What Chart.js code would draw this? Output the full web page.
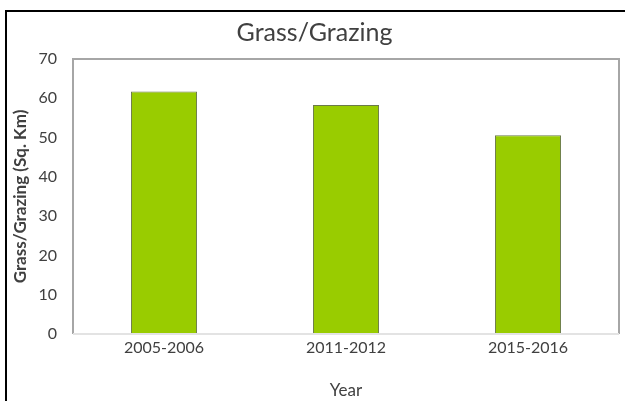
<!DOCTYPE html>
<html>
<head>
<meta charset="utf-8">
<script src="https://cdn.jsdelivr.net/npm/chart.js@4.4.1/dist/chart.umd.min.js"></script>
<style>
  html, body { margin: 0; padding: 0; background: #fff; }
  #wrap { position: relative; width: 625px; height: 401px; overflow: hidden; }
  #frame { position: absolute; left: 5px; top: 10px; width: 640px; height: 420px;
           border-left: 2px solid #000; border-top: 2px solid #000; }
  canvas { position: absolute; left: 0; top: 0; }
</style>
</head>
<body>
<div id="wrap">
  <div id="frame"></div>
  <canvas id="myChart" width="625" height="401"></canvas>
</div>
<script>
var years = ["2005-2006", "2011-2012", "2015-2016"];

var grazing = [61.7, 58.3, 50.6];

var yTicks = [0, 10, 20, 30, 40, 50, 60, 70];

// grey frame round the plot area, like the excel one
var plotFrame = {
  id: "plotFrame",
  afterDraw: function(chart) {
    var a = chart.chartArea;
    var c = chart.ctx;
    c.save();
    c.strokeStyle = "#a6a6a6";
    c.lineWidth = 2;
    c.beginPath();
    c.moveTo(a.left, a.bottom);
    c.lineTo(a.left, a.top);
    c.lineTo(a.right, a.top);
    c.lineTo(a.right, a.bottom);
    c.stroke();
    c.strokeStyle = "#e3e3e3";
    c.beginPath();
    c.moveTo(a.left, a.bottom);
    c.lineTo(a.right, a.bottom);
    c.stroke();
    c.restore();
  }
};

var data = {
  labels: years,
  datasets: [
    {
      label: "Grass/Grazing",
      backgroundColor: "#99cc00",
      borderColor: "#6b7a4a",
      borderWidth: 1,
      borderSkipped: "bottom",
      barPercentage: 0.363,
      categoryPercentage: 1.0,
      data: grazing
    }
  ]
};

var ctx = document.getElementById("myChart").getContext("2d");

var options = {
  responsive: false,
  animation: false,
  layout: {
    padding: { left: 10, right: 6, top: 0, bottom: 0 }
  },
  plugins: {
    legend: { display: false },
    tooltip: { enabled: false },
    title: {
      display: true,
      text: "Grass/Grazing",
      color: "#404040",
      font: { family: "Lato", size: 25, weight: "normal" },
      padding: { top: 18, bottom: 11 }
    }
  },
  scales: {
    x: {
      afterFit: function(axis) { axis.height = 67; },
      grid: { display: false, drawTicks: false, tickLength: 0 },
      border: { display: false },
      ticks: {
        color: "#404040",
        font: { family: "Lato", size: 16 },
        padding: 4
      },
      title: {
        display: true,
        text: "Year",
        color: "#404040",
        font: { family: "Lato", size: 17 },
        padding: { top: 10, bottom: 0 }
      }
    },
    y: {
      min: 0,
      max: 70,
      afterBuildTicks: function(axis) {
        axis.ticks = yTicks.map(function(v) { return { value: v }; });
      },
      afterFit: function(axis) { axis.width = 63; },
      grid: { display: false, drawTicks: false, tickLength: 0 },
      border: { display: false },
      ticks: {
        color: "#404040",
        font: { family: "Lato", size: 16 },
        padding: 16
      },
      title: {
        display: true,
        text: "Grass/Grazing (Sq. Km)",
        color: "#404040",
        font: { family: "Lato", size: 17, weight: "bold" },
        padding: { top: 0, bottom: 0 }
      }
    }
  }
};

var barChart = new Chart(ctx, {
  type: "bar",
  data: data,
  options: options,
  plugins: [plotFrame]
});
</script>
</body>
</html>
